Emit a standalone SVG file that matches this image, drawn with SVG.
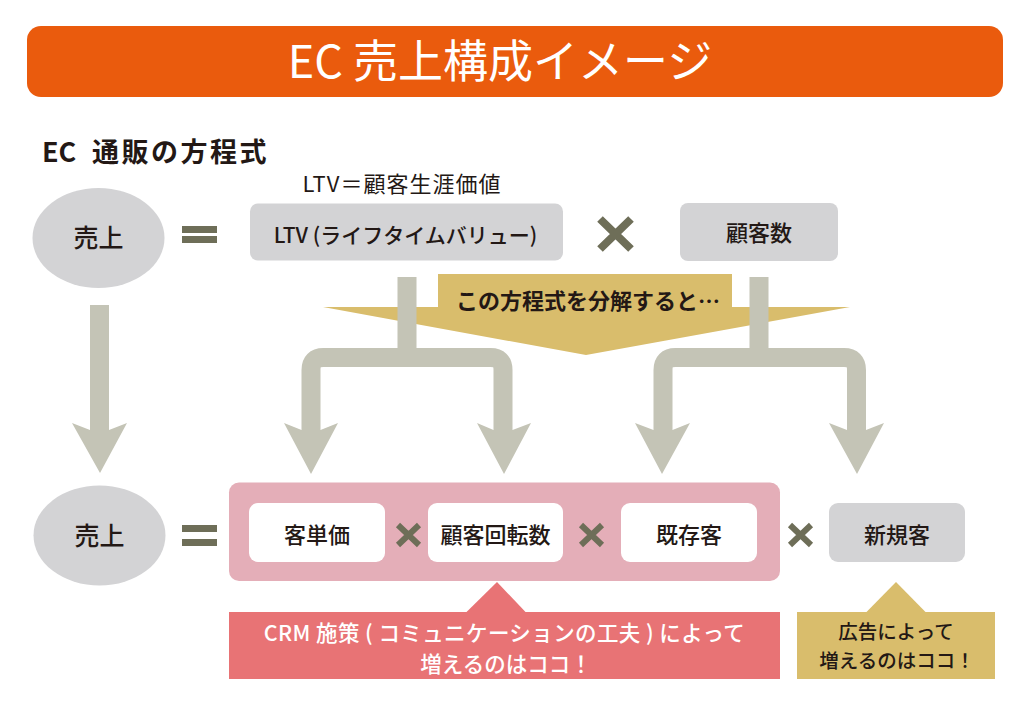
<svg xmlns="http://www.w3.org/2000/svg" width="1033" height="714" viewBox="0 0 1033 714">
  <style>
    text { font-family: "Noto Sans CJK JP", "Noto Sans", sans-serif; fill: #231815; text-anchor: middle; }
    .node { fill: #D3D3D5; }
    .wbox { fill: #FFFFFF; }
    .lbl { font-size: 22px; font-weight: 500; }
    .conn { fill: none; stroke: #C4C4B6; stroke-width: 19; stroke-linejoin: round; }
    .head { fill: #C4C4B6; }
    .op { stroke: #6E6E58; stroke-linecap: butt; }
    .eq { fill: #6E6E58; }
    .gold { fill: #D9BD6C; }
  </style>

  <g id="title">
    <rect x="27" y="26" width="976" height="71" rx="14" fill="#EA5B0D"/>
    <text x="500" y="78" style="font-size:45px; fill:#FFFFFF;">EC 売上構成イメージ</text>
  </g>

  <g id="subtitle">
    <text x="42" y="162" style="font-size:27px; font-weight:700; text-anchor:start;">EC <tspan x="92" style="letter-spacing:2.5px;">通販の方程式</tspan></text>
  </g>

  <g id="ltv-note">
    <text x="402" y="192" style="font-size:22px; letter-spacing:1px;">LTV＝顧客生涯価値</text>
  </g>

  <!-- gold decomposition banner -->
  <g id="decompose-banner">
    <polygon class="gold" points="438,274 732,274 732,307 850,307 586,355 323,307 438,307"/>
    <text x="588" y="309" style="font-size:22px; font-weight:700;">この方程式を分解すると…</text>
  </g>

  <g id="connectors">
    <!-- vertical arrow from top 売上 to bottom 売上 -->
    <line class="conn" x1="99.5" y1="305" x2="99.5" y2="431" style="stroke-linejoin:miter"/>
    <polygon class="head" points="72,423 90,430 109,430 127,423 100,473"/>
    <!-- fork from LTV -->
    <path class="conn" d="M407,277 V358"/>
    <path class="conn" d="M311,431 V370 Q311,357.5 323.5,357.5 H490.5 Q503,357.5 503,370 V431"/>
    <polygon class="head" points="284,423 301.5,430 320.5,430 338,423 311,474"/>
    <polygon class="head" points="477,423 493.5,430 512.5,430 531,423 504,474"/>
    <!-- fork from 顧客数 -->
    <path class="conn" d="M759,277 V358"/>
    <path class="conn" d="M663,431 V370 Q663,357.5 675.5,357.5 H844 Q856.5,357.5 856.5,370 V431"/>
    <polygon class="head" points="635,423 653.5,430 672.5,430 690,423 662,474"/>
    <polygon class="head" points="829,423 847,430 866,430 884,423 857,474"/>
  </g>

  <g id="sales-top">
    <ellipse class="node" cx="98.5" cy="238" rx="66" ry="50"/>
    <text x="98.5" y="247" style="font-size:25px; font-weight:500;">売上</text>
  </g>

  <g id="eq-top">
    <rect class="eq" x="182" y="226" width="35" height="7"/>
    <rect class="eq" x="182" y="236" width="35" height="7"/>
  </g>

  <g id="ltv">
    <rect class="node" x="250" y="203.5" width="313" height="57" rx="8"/>
    <text x="405.5" y="243" style="font-size:21px; font-weight:500;">LTV (ライフタイムバリュー)</text>
  </g>

  <g id="times-top">
    <path class="op" d="M600,219 L631,249 M631,219 L600,249" style="stroke-width:8"/>
  </g>

  <g id="customers">
    <rect class="node" x="680" y="203" width="158" height="58" rx="8"/>
    <text x="759" y="241" class="lbl">顧客数</text>
  </g>

  <g id="sales-bottom">
    <ellipse class="node" cx="99.5" cy="535.5" rx="66" ry="50"/>
    <text x="99.5" y="544.5" style="font-size:25px; font-weight:500;">売上</text>
  </g>

  <g id="eq-bottom">
    <rect class="eq" x="182" y="525" width="35" height="7"/>
    <rect class="eq" x="182" y="539" width="35" height="7"/>
  </g>

  <g id="crm-group">
    <rect x="229" y="482.5" width="551" height="98.5" rx="10" fill="#E4AEB8"/>
  </g>

  <g id="unit-price">
    <rect class="wbox" x="249" y="503" width="136" height="59" rx="9"/>
    <text x="317" y="543" class="lbl">客単価</text>
  </g>

  <g id="times-1">
    <path class="op" d="M398,525 L419,545 M419,525 L398,545" style="stroke-width:6"/>
  </g>

  <g id="repeat-rate">
    <rect class="wbox" x="428" y="503" width="135" height="59" rx="9"/>
    <text x="495.5" y="543" class="lbl">顧客回転数</text>
  </g>

  <g id="times-2">
    <path class="op" d="M581,525 L602,545 M602,525 L581,545" style="stroke-width:6"/>
  </g>

  <g id="existing">
    <rect class="wbox" x="621" y="503" width="136" height="59" rx="9"/>
    <text x="689" y="543" class="lbl">既存客</text>
  </g>

  <g id="times-3">
    <path class="op" d="M790,525 L811,545 M811,525 L790,545" style="stroke-width:6"/>
  </g>

  <g id="new-customers">
    <rect class="node" x="829" y="503" width="136" height="59" rx="9"/>
    <text x="897" y="543" class="lbl">新規客</text>
  </g>

  <g id="crm-callout">
    <polygon points="466,612.5 497,582 526,612.5" fill="#E87375"/>
    <rect x="229" y="612" width="551" height="67" fill="#E87375"/>
    <text x="504.5" y="640.5" style="font-size:21.5px; font-weight:500; fill:#FFFFFF; letter-spacing:0.4px;">CRM 施策 ( コミュニケーションの工夫 ) によって</text>
    <text x="506" y="672" style="font-size:21.5px; font-weight:500; fill:#FFFFFF;">増えるのはココ！</text>
  </g>

  <g id="ad-callout">
    <polygon class="gold" points="866,612.5 896,582 926,612.5"/>
    <rect class="gold" x="797" y="612" width="198" height="67"/>
    <text x="896" y="639" style="font-size:19.5px; font-weight:500;">広告によって</text>
    <text x="897" y="667.5" style="font-size:19.5px; font-weight:500;">増えるのはココ！</text>
  </g>
</svg>
